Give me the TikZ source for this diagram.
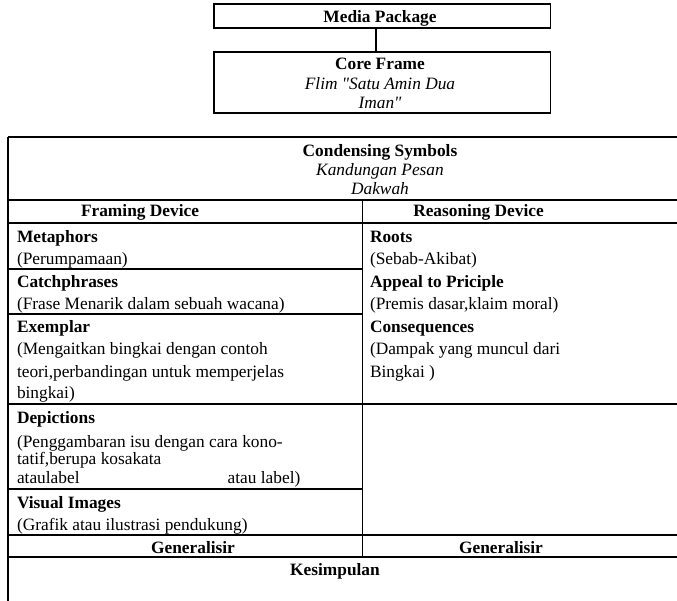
\documentclass[tikz,border=0pt]{standalone}
\usepackage{fontspec}
\setmainfont{Liberation Serif}[Ligatures=TeXOff]
\newdimen\px \px=0.75pt
\tikzset{
  frame/.style={draw=black, line width=1pt, inner sep=0pt, outer sep=0pt},
  rule/.style={draw=black, line width=1pt},
  txt/.style={anchor=base west, inner sep=0pt, outer sep=0pt, font=\fontsize{13}{15}\selectfont},
  ctxt/.style={anchor=base, inner sep=0pt, outer sep=0pt, font=\fontsize{13}{15}\selectfont},
  hd/.style={font=\fontsize{13}{15}\selectfont\bfseries},
  it/.style={font=\fontsize{13}{15}\selectfont\itshape}
}
\begin{document}
\begin{tikzpicture}[x=0.75pt,y=-0.75pt]
\useasboundingbox (0,0) rectangle (677,600);
\clip (0,0) rectangle (677,600);
\fill[white] (0,0) rectangle (677,600);

% top boxes
\node[frame, minimum width=336.7\px, minimum height=24\px] (mp) at (382.35,16) {};
\node[frame, minimum width=336.7\px, minimum height=61\px] (cf) at (382.35,82.5) {};
\draw[rule] (mp.south -| 376,0) -- (cf.north -| 376,0);
\node[ctxt,hd] (mpt) at (380,22.7) {Media Package};
\node[ctxt,hd] (cft) at (380,69.3) {Core Frame};
\node[ctxt,it] (cf1) at (380,89.3) {Flim "Satu Amin Dua};
\node[ctxt,it] (cf2) at (380,108.3) {Iman"};

% table rules
\draw[rule] (8,137) -- (700,137);
\draw[rule] (8,137) -- (8,620);
\draw[rule] (8,200) -- (700,200);
\draw[rule] (8,223) -- (700,223);
\draw[rule] (362.7,200) -- (362.7,557);
\draw[rule] (8,269) -- (362.7,269);
\draw[rule] (8,314) -- (362.7,314);
\draw[rule] (8,404) -- (700,404);
\draw[rule] (8,489) -- (362.7,489);
\draw[rule] (8,535) -- (700,535);
\draw[rule] (8,557) -- (700,557);

% header
\node[ctxt,hd] (cs) at (380,156) {Condensing Symbols};
\node[ctxt,it] (cs1) at (380,175) {Kandungan Pesan};
\node[ctxt,it] (cs2) at (380,194) {Dakwah};
\node[ctxt,hd] (fd) at (140,216) {Framing Device};
\node[ctxt,hd] (rd) at (478.5,216.5) {Reasoning Device};

% framing device column
\node[txt,hd] (met) at (17,242) {Metaphors};
\node[txt] (met1) at (17,264) {(Perumpamaan)};
\node[txt,hd] (cat) at (17,287) {Catchphrases};
\node[txt] (cat1) at (17,309) {(Frase Menarik dalam sebuah wacana)};
\node[txt,hd] (ex) at (17,332) {Exemplar};
\node[txt] (ex1) at (17,354) {(Mengaitkan bingkai dengan contoh};
\node[txt] (ex2) at (17,377) {teori,perbandingan untuk memperjelas};
\node[txt] (ex3) at (17,398) {bingkai)};
\node[txt,hd] (dep) at (17,423) {Depictions};
\node[txt] (dep1) at (17,447.7) {(Penggambaran isu dengan cara kono-};
\node[txt] (dep2) at (17,464) {tatif,berupa kosakata};
\node[txt] (dep3) at (17,483) {ataulabel};
\node[txt] (dep4) at (227.7,483) {atau label)};
\node[txt,hd] (vi) at (17,508) {Visual Images};
\node[txt] (vi1) at (17,530) {(Grafik atau ilustrasi pendukung)};

% reasoning device column
\node[txt,hd] (ro) at (370,242) {Roots};
\node[txt] (ro1) at (370,264) {(Sebab-Akibat)};
\node[txt,hd] (ap) at (370,287) {Appeal to Priciple};
\node[txt] (ap1) at (370,309) {(Premis dasar,klaim moral)};
\node[txt,hd] (co) at (370,332) {Consequences};
\node[txt] (co1) at (370,354) {(Dampak yang muncul dari};
\node[txt] (co2) at (370,377) {Bingkai )};

% bottom
\node[ctxt,hd] (g1) at (193,553) {Generalisir};
\node[ctxt,hd] (g2) at (501,553) {Generalisir};
\node[ctxt,hd] (ks) at (335,575) {Kesimpulan};
\end{tikzpicture}
\end{document}
